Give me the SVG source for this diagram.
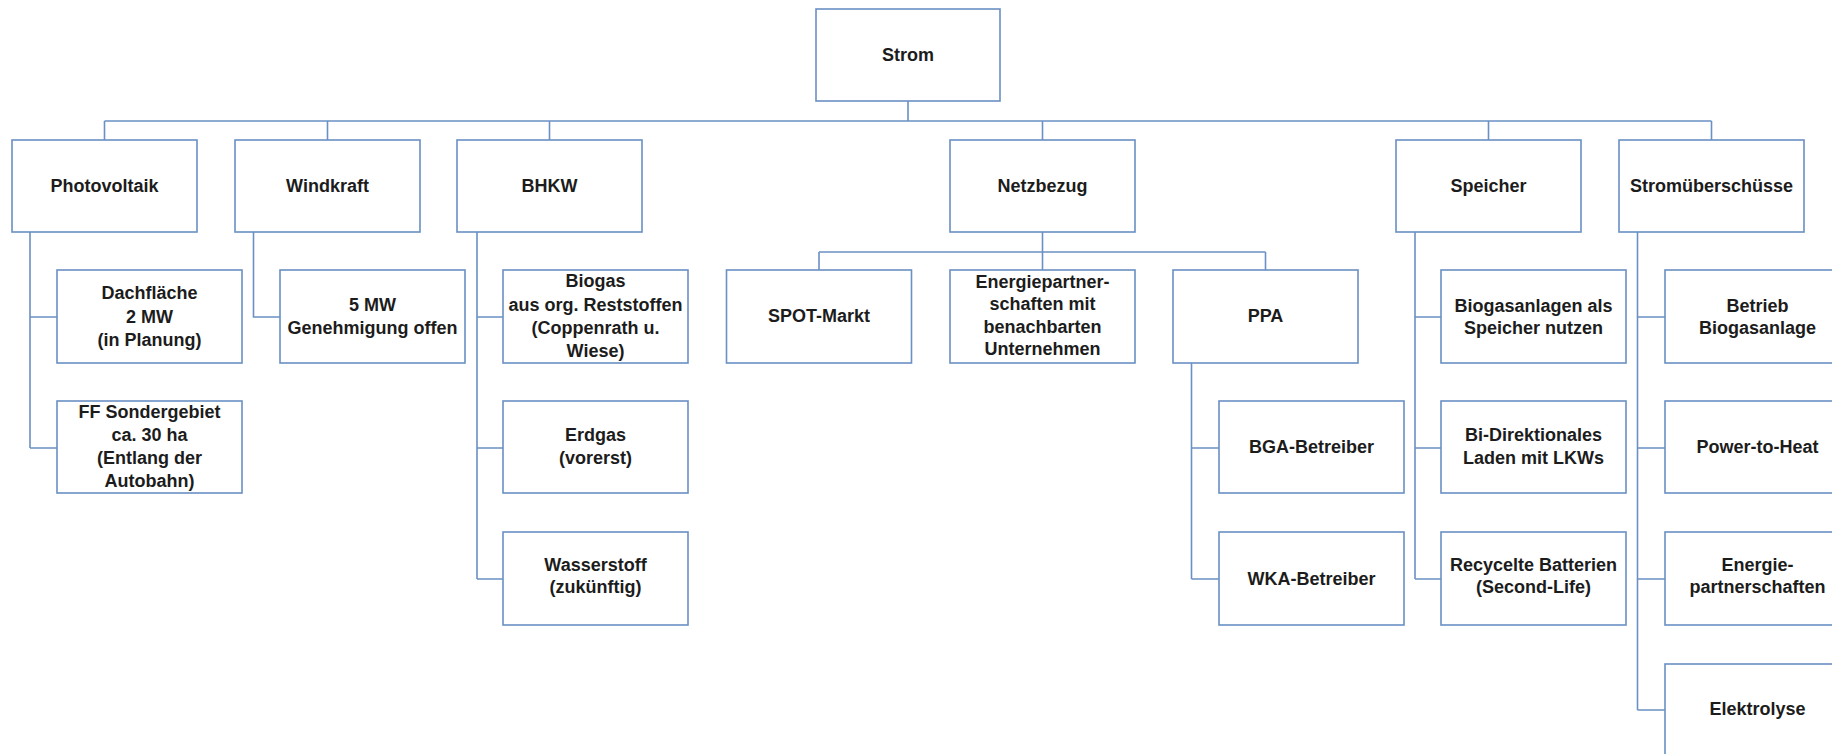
<svg xmlns="http://www.w3.org/2000/svg" width="1832" height="754" viewBox="0 0 1832 754">
<style>
.box{fill:#ffffff;stroke:#6a90c4;stroke-width:1.6}
.con{fill:none;stroke:#6a90c4;stroke-width:1.6}
text{font-family:"Liberation Sans",Arial,sans-serif;font-weight:bold;font-size:18px;fill:#1c1c1c;text-anchor:middle}
</style>
<rect width="1832" height="754" fill="#ffffff"/>
<g id="connectors">
<path class="con" d="M908,101V121M104.5,121H1711.5M104.5,121V140M327.5,121V140M549.5,121V140M1042.5,121V140M1488.5,121V140M1711.5,121V140"/>
<path class="con" d="M30,232V448M30,317H57M30,448H57"/>
<path class="con" d="M253.5,232V317H280"/>
<path class="con" d="M477,232V579M477,317H503M477,448H503M477,579H503"/>
<path class="con" d="M1042.5,232V252M819,252H1265.5M819,252V270M1042.5,252V270M1265.5,252V270"/>
<path class="con" d="M1191.5,363V579M1191.5,448H1219M1191.5,579H1219"/>
<path class="con" d="M1415,232V579M1415,317H1441M1415,448H1441M1415,579H1441"/>
<path class="con" d="M1637.5,232V710M1637.5,317H1665M1637.5,448H1665M1637.5,579H1665M1637.5,710H1665"/>
</g>
<g id="strom"><rect class="box" x="816" y="9" width="184" height="92"/><text x="908" y="61">Strom</text></g>
<g id="photovoltaik"><rect class="box" x="12" y="140" width="185" height="92"/><text x="104.5" y="192">Photovoltaik</text></g>
<g id="windkraft"><rect class="box" x="235" y="140" width="185" height="92"/><text x="327.5" y="192">Windkraft</text></g>
<g id="bhkw"><rect class="box" x="457" y="140" width="185" height="92"/><text x="549.5" y="192">BHKW</text></g>
<g id="netzbezug"><rect class="box" x="950" y="140" width="185" height="92"/><text x="1042.5" y="192">Netzbezug</text></g>
<g id="speicher"><rect class="box" x="1396" y="140" width="185" height="92"/><text x="1488.5" y="192">Speicher</text></g>
<g id="stromueberschuesse"><rect class="box" x="1619" y="140" width="185" height="92"/><text x="1711.5" y="192">Stromüberschüsse</text></g>

<g id="dachflaeche"><rect class="box" x="57" y="270" width="185" height="93"/><text x="149.5" y="299">Dachfläche</text><text x="149.5" y="323">2 MW</text><text x="149.5" y="346">(in Planung)</text></g>
<g id="ff-sondergebiet"><rect class="box" x="57" y="401" width="185" height="92"/><text x="149.5" y="418">FF Sondergebiet</text><text x="149.5" y="441">ca. 30 ha</text><text x="149.5" y="464">(Entlang der</text><text x="149.5" y="487">Autobahn)</text></g>
<g id="wind-5mw"><rect class="box" x="280" y="270" width="185" height="93"/><text x="372.5" y="311">5 MW</text><text x="372.5" y="334">Genehmigung offen</text></g>
<g id="biogas"><rect class="box" x="503" y="270" width="185" height="93"/><text x="595.5" y="287">Biogas</text><text x="595.5" y="311">aus org. Reststoffen</text><text x="595.5" y="334">(Coppenrath u.</text><text x="595.5" y="357">Wiese)</text></g>
<g id="erdgas"><rect class="box" x="503" y="401" width="185" height="92"/><text x="595.5" y="441">Erdgas</text><text x="595.5" y="464">(vorerst)</text></g>
<g id="wasserstoff"><rect class="box" x="503" y="532" width="185" height="93"/><text x="595.5" y="571">Wasserstoff</text><text x="595.5" y="593">(zukünftig)</text></g>
<g id="spot-markt"><rect class="box" x="726.5" y="270" width="185" height="93"/><text x="819" y="322">SPOT-Markt</text></g>
<g id="energiepartnerschaften-netz"><rect class="box" x="950" y="270" width="185" height="93"/><text x="1042.5" y="288">Energiepartner-</text><text x="1042.5" y="310">schaften mit</text><text x="1042.5" y="333">benachbarten</text><text x="1042.5" y="355">Unternehmen</text></g>
<g id="ppa"><rect class="box" x="1173" y="270" width="185" height="93"/><text x="1265.5" y="322">PPA</text></g>
<g id="bga-betreiber"><rect class="box" x="1219" y="401" width="185" height="92"/><text x="1311.5" y="453">BGA-Betreiber</text></g>
<g id="wka-betreiber"><rect class="box" x="1219" y="532" width="185" height="93"/><text x="1311.5" y="585">WKA-Betreiber</text></g>
<g id="biogasanlagen-speicher"><rect class="box" x="1441" y="270" width="185" height="93"/><text x="1533.5" y="312">Biogasanlagen als</text><text x="1533.5" y="334">Speicher nutzen</text></g>
<g id="bidirektional"><rect class="box" x="1441" y="401" width="185" height="92"/><text x="1533.5" y="441">Bi-Direktionales</text><text x="1533.5" y="464">Laden mit LKWs</text></g>
<g id="recycelte-batterien"><rect class="box" x="1441" y="532" width="185" height="93"/><text x="1533.5" y="571">Recycelte Batterien</text><text x="1533.5" y="593">(Second-Life)</text></g>
<g id="betrieb-biogasanlage"><rect class="box" x="1665" y="270" width="185" height="93"/><text x="1757.5" y="312">Betrieb</text><text x="1757.5" y="334">Biogasanlage</text></g>
<g id="power-to-heat"><rect class="box" x="1665" y="401" width="185" height="92"/><text x="1757.5" y="453">Power-to-Heat</text></g>
<g id="energiepartnerschaften"><rect class="box" x="1665" y="532" width="185" height="93"/><text x="1757.5" y="571">Energie-</text><text x="1757.5" y="593">partnerschaften</text></g>
<g id="elektrolyse"><rect class="box" x="1665" y="664" width="185" height="93"/><text x="1757.5" y="715">Elektrolyse</text></g>
</svg>
